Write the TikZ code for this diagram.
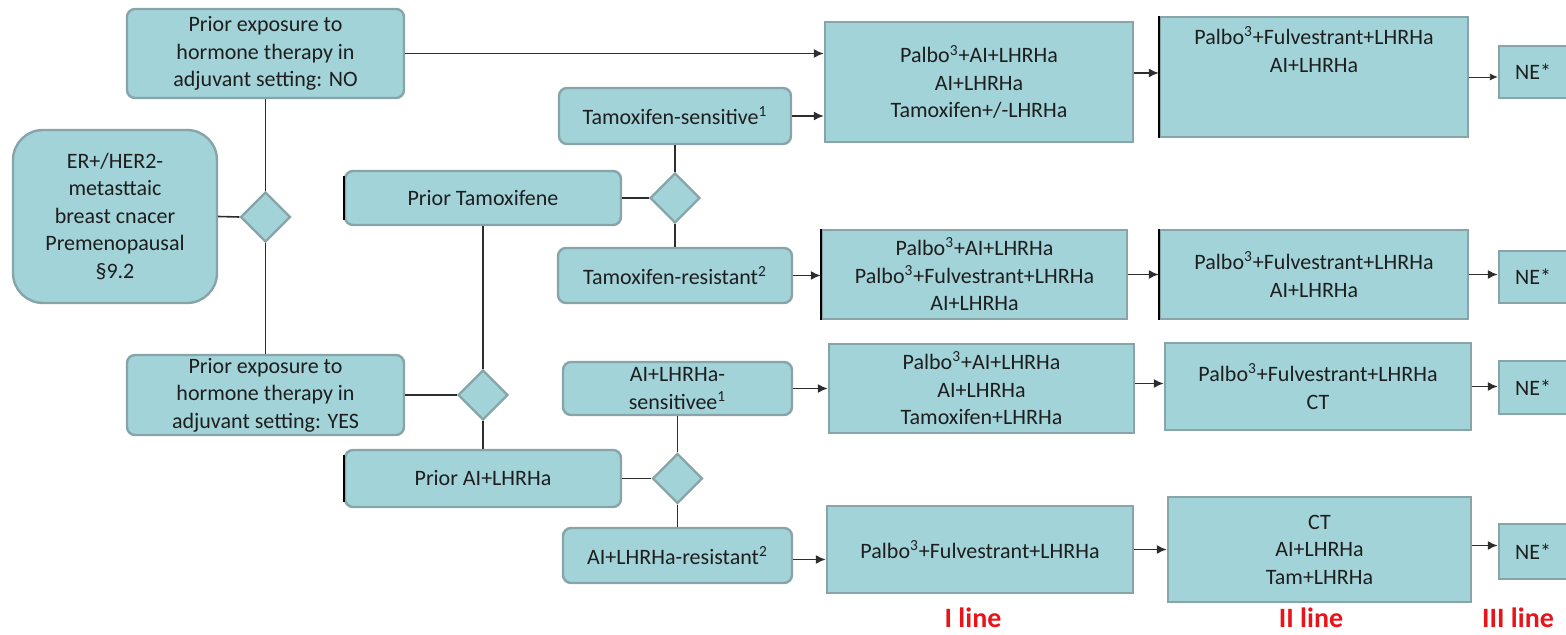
\documentclass[tikz,border=0pt]{standalone}
\usepackage{fontspec}
\setmainfont{Carlito}
\usetikzlibrary{shapes.geometric,arrows.meta}
\definecolor{boxfill}{RGB}{162,211,216}
\definecolor{boxedge}{RGB}{135,165,168}
\definecolor{linecol}{RGB}{45,45,45}
\definecolor{txt}{RGB}{30,30,30}
\definecolor{labelred}{RGB}{232,20,25}
\begin{document}
\begin{tikzpicture}[x=0.5pt,y=-0.5pt,
  base/.style={fill=boxfill,draw=boxedge,line width=1.2pt,text=txt,align=center,inner sep=0pt,font=\fontsize{11}{13.75}\selectfont},
  rbox/.style={base,rounded corners=4pt},
  sbox/.style={base},
  dia/.style={diamond,fill=boxfill,draw=boxedge,line width=1.2pt,minimum width=25pt,minimum height=25pt,inner sep=0pt},
  conn/.style={draw=linecol,line width=0.8pt},
  arr/.style={conn,-{Latex[length=5pt,width=4.5pt]}},
  thinarr/.style={draw=linecol,line width=0.45pt,-{Latex[length=4pt,width=3.5pt]}},
  edgeline/.style={draw=black,line width=0.8pt},
  lbl/.style={text=labelred,inner sep=0pt,font=\fontsize{14}{16}\selectfont\bfseries},
]
\useasboundingbox (0,0) rectangle (1566,635);
\clip (0,0) rectangle (1566,635);

% left part
\node[rbox,minimum width=138.5pt,minimum height=44.5pt] (no) at (265.5,53.5) {Prior exposure to\\hormone therapy in\\adjuvant setting: NO};
\node[base,rounded corners=15pt,minimum width=102pt,minimum height=86.5pt] (er) at (115,216.5) {ER+/HER2-\\metasttaic\\breast cnacer\\Premenopausal\\§9.2};
\node[dia] (d1) at (265.5,217) {};
\node[rbox,minimum width=138.5pt,minimum height=40pt] (yes) at (265.5,395) {Prior exposure to\\hormone therapy in\\adjuvant setting: YES};

\node[rbox,minimum width=138pt,minimum height=27pt] (ptam) at (483,198) {Prior Tamoxifene};
\node[dia] (d2) at (675,198) {};
\node[rbox,minimum width=116pt,minimum height=28pt] (tams) at (675,116) {Tamoxifen-sensitive\textsuperscript{1}};
\node[rbox,minimum width=117pt,minimum height=27.5pt] (tamr) at (675,275.5) {Tamoxifen-resistant\textsuperscript{2}};

\node[dia] (d3) at (483,395) {};
\node[rbox,minimum width=138pt,minimum height=28.5pt] (pai) at (483,478.5) {Prior AI+LHRHa};
\node[dia] (d4) at (677.5,478.5) {};
\node[rbox,minimum width=114.5pt,minimum height=26.5pt] (ais) at (677.5,388.5) {AI+LHRHa-\\sensitivee\textsuperscript{1}};
\node[rbox,minimum width=114.5pt,minimum height=27.5pt] (air) at (677.5,555.5) {AI+LHRHa-resistant\textsuperscript{2}};

% first line
\node[sbox,minimum width=154pt,minimum height=60pt] (r1a) at (979,82) {Palbo\textsuperscript{3}+AI+LHRHa\\AI+LHRHa\\Tamoxifen+/-LHRHa};
\node[sbox,minimum width=152.5pt,minimum height=44.5pt] (r2a) at (974.5,274.5) {Palbo\textsuperscript{3}+AI+LHRHa\\Palbo\textsuperscript{3}+Fulvestrant+LHRHa\\AI+LHRHa};
\node[sbox,minimum width=152.5pt,minimum height=44.5pt] (r3a) at (981.5,388.5) {Palbo\textsuperscript{3}+AI+LHRHa\\AI+LHRHa\\Tamoxifen+LHRHa};
\node[sbox,minimum width=153pt,minimum height=43.5pt] (r4a) at (980,549.5) {Palbo\textsuperscript{3}+Fulvestrant+LHRHa};

% second line
\node[sbox,minimum width=154pt,minimum height=60pt] (r1b) at (1314,77) {Palbo\textsuperscript{3}+Fulvestrant+LHRHa\\AI+LHRHa\\[13.75pt]};
\node[sbox,minimum width=154pt,minimum height=44.5pt] (r2b) at (1314,274.5) {Palbo\textsuperscript{3}+Fulvestrant+LHRHa\\AI+LHRHa};
\node[sbox,minimum width=153pt,minimum height=43.5pt] (r3b) at (1318,386.5) {Palbo\textsuperscript{3}+Fulvestrant+LHRHa\\CT};
\node[sbox,minimum width=151.5pt,minimum height=52.5pt] (r4b) at (1319.5,549.5) {CT\\AI+LHRHa\\Tam+LHRHa};

% third line
\node[sbox,minimum width=34pt,minimum height=26pt] (ne1) at (1533,72) {NE*};
\node[sbox,minimum width=34pt,minimum height=26pt] (ne2) at (1533,277) {NE*};
\node[sbox,minimum width=34pt,minimum height=26.5pt] (ne3) at (1533,387.5) {NE*};
\node[sbox,minimum width=34pt,minimum height=27.5pt] (ne4) at (1533,551.5) {NE*};

% dark left edges
\draw[edgeline] ([yshift=-3pt]ptam.north west) -- ([yshift=3pt]ptam.south west);
\draw[edgeline] ([yshift=-3pt]pai.north west) -- ([yshift=3pt]pai.south west);
\draw[edgeline] (r1b.north west) -- (r1b.south west);
\draw[edgeline] (r2a.north west) -- (r2a.south west);
\draw[edgeline] (r2b.north west) -- (r2b.south west);

% connectors
\draw[conn] (er.east) -- (d1.west);
\draw[conn] (no.south) -- (d1.north);
\draw[conn] (d1.south) -- (yes.north);
\draw[conn] (ptam.east) -- (d2.west);
\draw[conn] (d2.north) -- (tams.south);
\draw[conn] (d2.south) -- (tamr.north);
\draw[conn] (ptam.south) -- (d3.north);
\draw[conn] (yes.east) -- (d3.west);
\draw[conn] (d3.south) -- (pai.north);
\draw[conn] (pai.east) -- (d4.west);
\draw[conn] (d4.north) -- (ais.south);
\draw[conn] (d4.south) -- (air.north);

\draw[arr] (no.east) -- (no.east -| r1a.west);
\draw[arr] (tams.east) -- (tams.east -| r1a.west);
\draw[arr] (tamr.east) -- (tamr.east -| r2a.west);
\draw[arr] (ais.east) -- (ais.east -| r3a.west);
\draw[arr] ([yshift=-2pt]air.east) -- ([yshift=-2pt]air.east -| r4a.west);

\draw[arr] ([yshift=4.5pt]r1a.east) -- ([yshift=4.5pt]r1a.east -| r1b.west);
\draw[arr] (r2a.east) -- (r2a.east -| r2b.west);
\draw[arr] ([yshift=2.5pt]r3a.east) -- ([yshift=2.5pt]r3a.east -| r3b.west);
\draw[arr] (r4a.east) -- (r4a.east -| r4b.west);

\draw[thinarr] (r1b.east) -- (r1b.east -| ne1.west);
\draw[arr] (r2b.east) -- (r2b.east -| ne2.west);
\draw[arr] (r3b.east) -- (r3b.east -| ne3.west);
\draw[arr] ([yshift=2pt]r4b.east) -- ([yshift=2pt]r4b.east -| ne4.west);

% labels
\node[lbl] (l1) at (973,618) {I line};
\node[lbl] (l2) at (1311,618) {II line};
\node[lbl] (l3) at (1518,618) {III line};
\end{tikzpicture}
\end{document}
